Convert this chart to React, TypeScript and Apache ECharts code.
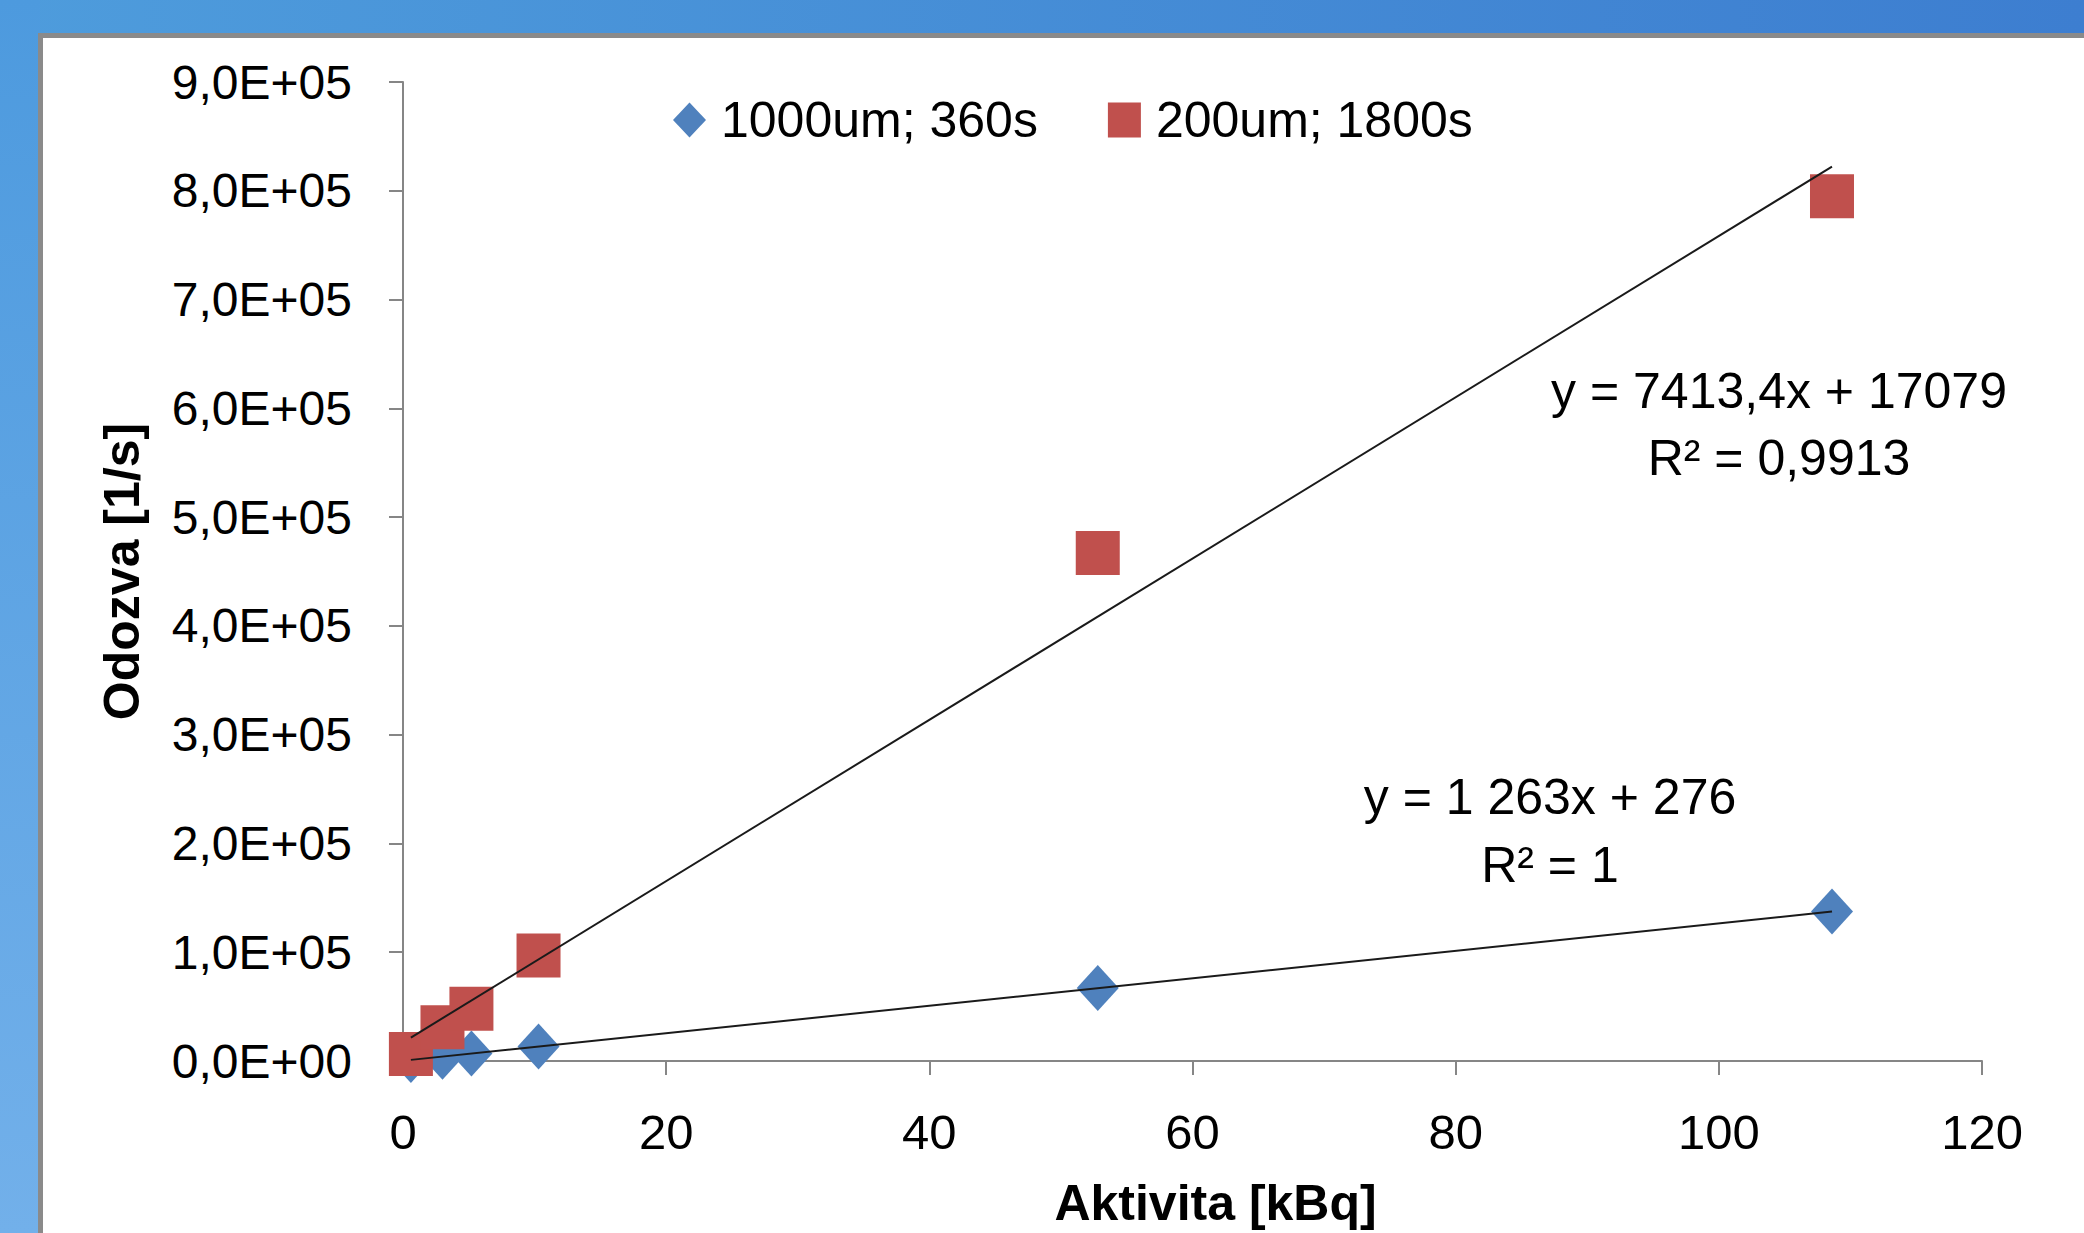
import React, { useEffect, useRef } from "react";
import * as echarts from "echarts";

// ---- data ----
const activityKBq = [0.6, 3.0, 5.2, 10.3, 52.8, 108.6];
const response1000um = [1000, 4000, 6800, 13300, 67000, 137400];
const response200um = [6400, 31000, 48000, 97000, 467000, 795000];
const seriesNames = ["1000um; 360s", "200um; 1800s"];
const trendSlopes = [1263, 7413.4];
const trendIntercepts = [276, 17079];
const trendEquations = ["y = 1 263x + 276", "y = 7413,4x + 17079"];
const trendR2 = ["R² = 1", "R² = 0,9913"];
const yTickLabels = [
  "0,0E+00", "1,0E+05", "2,0E+05", "3,0E+05", "4,0E+05",
  "5,0E+05", "6,0E+05", "7,0E+05", "8,0E+05", "9,0E+05",
];
const xTickLabels = ["0", "20", "40", "60", "80", "100", "120"];

const W = 2084;
const H = 1233;
const FONT = "'Liberation Sans', Arial, sans-serif";
const NARROW = "'Liberation Sans Narrow', 'Liberation Sans', Arial, sans-serif";

export default function App() {
  const ref = useRef<HTMLDivElement>(null);

  useEffect(() => {
    if (!ref.current) return;
    const chart = echarts.init(ref.current, undefined, { renderer: "svg" });

    const xMin = Math.min(...activityKBq);
    const xMax = Math.max(...activityKBq);
    const trend = (i: number) => [
      [xMin, trendSlopes[i] * xMin + trendIntercepts[i]],
      [xMax, trendSlopes[i] * xMax + trendIntercepts[i]],
    ];
    const pts = (ys: number[]) => activityKBq.map((x, i) => [x, ys[i]]);

    const axisGray = "#868686";

    chart.setOption({
      animation: false,
      backgroundColor: "transparent",
      textStyle: { fontFamily: FONT, color: "#000" },
      grid: { left: 403, right: 102, top: 82, bottom: 172 },
      legend: {
        data: [
          { name: seriesNames[0], icon: "diamond" },
          { name: seriesNames[1], icon: "rect" },
        ],
        left: 668,
        top: 90,
        itemWidth: 33,
        itemHeight: 35,
        itemGap: 70,
        textStyle: {
          fontFamily: FONT,
          fontSize: 50,
          color: "#000",
          padding: [0, 0, 0, 10],
        },
      },
      xAxis: {
        type: "value",
        min: 0,
        max: 120,
        interval: 20,
        name: "Aktivita [kBq]",
        nameLocation: "middle",
        nameGap: 117,
        nameTextStyle: {
          fontFamily: FONT,
          fontWeight: "bold",
          fontSize: 50,
          color: "#000",
          padding: [0, 0, 0, 46],
        },
        axisLine: { show: true, onZero: false, lineStyle: { color: axisGray, width: 2 } },
        axisTick: { show: true, length: 14, lineStyle: { color: axisGray, width: 2 } },
        splitLine: { show: false },
        axisLabel: {
          margin: 46,
          fontFamily: FONT,
          fontSize: 49,
          color: "#000",
          formatter: (v: number) => xTickLabels[Math.round(v / 20)] ?? String(v),
        },
      },
      yAxis: {
        type: "value",
        min: 0,
        max: 900000,
        interval: 100000,
        name: "Odozva [1/s]",
        nameLocation: "middle",
        nameGap: 256,
        nameTextStyle: { fontFamily: FONT, fontWeight: "bold", fontSize: 50, color: "#000" },
        axisLine: { show: true, lineStyle: { color: axisGray, width: 2 } },
        axisTick: { show: true, length: 14, lineStyle: { color: axisGray, width: 2 } },
        splitLine: { show: false },
        axisLabel: {
          margin: 51,
          fontFamily: NARROW,
          fontSize: 48,
          color: "#000",
          formatter: (v: number) => yTickLabels[Math.round(v / 100000)] ?? String(v),
        },
      },
      series: [
        {
          name: seriesNames[0],
          type: "scatter",
          symbol: "diamond",
          symbolSize: [42, 46],
          itemStyle: { color: "#4F81BD", opacity: 1 },
          data: pts(response1000um),
          z: 3,
        },
        {
          name: seriesNames[1],
          type: "scatter",
          symbol: "rect",
          symbolSize: 44,
          itemStyle: { color: "#C0504D", opacity: 1 },
          data: pts(response200um),
          z: 4,
        },
        {
          name: "trend1",
          type: "line",
          data: trend(0),
          showSymbol: false,
          silent: true,
          lineStyle: { color: "#1a1a1a", width: 2 },
          z: 6,
        },
        {
          name: "trend2",
          type: "line",
          data: trend(1),
          showSymbol: false,
          silent: true,
          lineStyle: { color: "#1a1a1a", width: 2 },
          z: 6,
        },
      ],
      graphic: [
        {
          type: "text",
          x: 1550,
          y: 797,
          style: { text: trendEquations[0], font: `50px ${FONT}`, fill: "#000", align: "center", verticalAlign: "middle" },
        },
        {
          type: "text",
          x: 1550,
          y: 865,
          style: { text: trendR2[0], font: `50px ${FONT}`, fill: "#000", align: "center", verticalAlign: "middle" },
        },
        {
          type: "text",
          x: 1779,
          y: 391,
          style: { text: trendEquations[1], font: `50px ${FONT}`, fill: "#000", align: "center", verticalAlign: "middle" },
        },
        {
          type: "text",
          x: 1779,
          y: 458,
          style: { text: trendR2[1], font: `50px ${FONT}`, fill: "#000", align: "center", verticalAlign: "middle" },
        },
      ],
    });

    return () => chart.dispose();
  }, []);

  return (
    <div
      style={{
        position: "fixed",
        left: 0,
        top: 0,
        width: W,
        height: H,
        overflow: "hidden",
        background: "linear-gradient(to right, #4e9cdc, #3d7ed0)",
      }}
    >
      <div
        style={{
          position: "absolute",
          left: 0,
          top: 0,
          width: 40,
          height: H,
          background: "linear-gradient(to bottom, #4d9ade, #72b0ea)",
        }}
      />
      <div
        style={{
          position: "absolute",
          left: 38,
          top: 33,
          width: W,
          height: H,
          background: "#ffffff",
          border: "5px solid #8a8a8a",
        }}
      />
      <div ref={ref} style={{ position: "absolute", left: 0, top: 0, width: W, height: H }} />
    </div>
  );
}
